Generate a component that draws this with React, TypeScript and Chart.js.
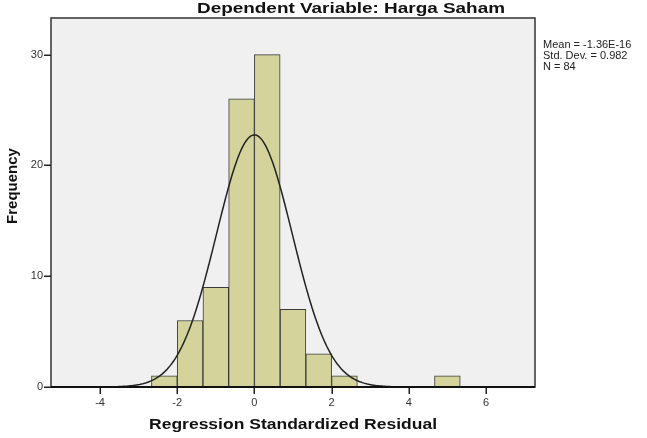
import React, { useEffect, useRef } from "react";
import { Chart, registerables } from "chart.js";

Chart.register(...registerables);

// Histogram bins (centres of 2/3-wide bins) and their counts
const binCenters = [-7 / 3, -5 / 3, -1, -1 / 3, 1 / 3, 1, 5 / 3, 7 / 3, 5];
const counts = [1, 6, 9, 26, 30, 7, 3, 1, 1];
const binWidth = 2 / 3;

// Stats shown in the legend
const mean = -1.36e-16;
const stdDev = 0.982;
const nObs = 84;
const statLines = ["Mean = -1.36E-16", "Std. Dev. = 0.982", "N = 84"];

const xTicks = [-4, -2, 0, 2, 4, 6];
const yTicks = [0, 10, 20, 30];
const xMin = -5.27;
const xMax = 7.27;
const yMax = 33.3;

const titleText = "Dependent Variable: Harga Saham";
const xTitle = "Regression Standardized Residual";
const yTitle = "Frequency";

// Fitted normal curve from the stated parameters
const curvePoints: { x: number; y: number }[] = [];
for (let i = 0; i <= 300; i++) {
  const x = xMin + ((xMax - xMin) * i) / 300;
  const z = (x - mean) / stdDev;
  const y = (nObs * binWidth * Math.exp(-0.5 * z * z)) / (stdDev * Math.sqrt(2 * Math.PI));
  curvePoints.push({ x, y });
}

const FONT = "Arial, 'Liberation Sans', sans-serif";

function stretchedText(ctx: CanvasRenderingContext2D, text: string, cx: number, y: number, width: number) {
  const w = ctx.measureText(text).width;
  ctx.save();
  ctx.translate(cx, y);
  ctx.scale(width / w, 1);
  ctx.textAlign = "center";
  ctx.fillText(text, 0, 0);
  ctx.restore();
}

export default function App() {
  const ref = useRef<HTMLCanvasElement | null>(null);

  useEffect(() => {
    document.body.style.margin = "0";
    const canvas = ref.current;
    if (!canvas) return;

    const decor = {
      id: "decor",
      beforeDatasetsDraw(chart: any) {
        const { ctx, chartArea: a } = chart;
        ctx.save();
        ctx.fillStyle = "#f0f0f0";
        ctx.fillRect(a.left, a.top, a.right - a.left, a.bottom - a.top);
        ctx.restore();
      },
      afterDraw(chart: any) {
        const { ctx, chartArea: a, scales } = chart;
        ctx.save();
        ctx.strokeStyle = "#333";
        ctx.lineWidth = 1.5;
        ctx.strokeRect(a.left, a.top, a.right - a.left, a.bottom - a.top);
        ctx.fillStyle = "#222";
        const bottom = a.bottom;
        for (const v of xTicks) {
          const px = scales.x.getPixelForValue(v);
          ctx.fillRect(Math.round(px) - 0.5, bottom, 1.5, 7);
        }
        for (const v of yTicks) {
          const py = scales.y.getPixelForValue(v);
          ctx.fillRect(a.left - 7, Math.round(py) - 0.5, 7, 1.5);
        }
        ctx.strokeStyle = "#111";
        ctx.lineWidth = 2;
        ctx.beginPath();
        ctx.moveTo(a.left, a.bottom);
        ctx.lineTo(a.right, a.bottom);
        ctx.stroke();

        ctx.fillStyle = "#111";
        ctx.font = `bold 14px ${FONT}`;
        ctx.textBaseline = "alphabetic";
        stretchedText(ctx, titleText, 351, 13, 308);
        ctx.font = `bold 15px ${FONT}`;
        stretchedText(ctx, xTitle, 293, 429, 288);
        ctx.save();
        ctx.translate(17, 186);
        ctx.rotate(-Math.PI / 2);
        ctx.textAlign = "center";
        ctx.fillText(yTitle, 0, 0);
        ctx.restore();
        ctx.font = `11px ${FONT}`;
        ctx.textAlign = "left";
        ctx.fillStyle = "#222";
        statLines.forEach((t, i) => ctx.fillText(t, 543, 48 + i * 11));
        ctx.restore();
      },
    };

    const chart = new Chart(canvas, {
      type: "bar",
      data: {
        datasets: [
          {
            type: "line",
            data: curvePoints,
            borderColor: "#222",
            borderWidth: 1.5,
            pointRadius: 0,
            fill: false,
            tension: 0,
            order: 0,
          } as any,
          {
            type: "bar",
            data: binCenters.map((x, i) => ({ x, y: counts[i] })),
            backgroundColor: "rgb(211,211,155)",
            borderColor: "#3a3a3a",
            borderWidth: 1,
            barPercentage: 1,
            categoryPercentage: 1,
            order: 1,
          } as any,
        ],
      },
      options: {
        responsive: false,
        animation: false,
        events: [],
        layout: { padding: { top: 18, right: 112, left: 0, bottom: 0 } },
        plugins: { legend: { display: false }, tooltip: { enabled: false }, title: { display: false } },
        scales: {
          x: {
            type: "linear",
            min: xMin,
            max: xMax,
            offset: false,
            afterBuildTicks: (s: any) => {
              s.ticks = xTicks.map((v) => ({ value: v }));
            },
            afterFit: (s: any) => {
              s.height = 51;
            },
            grid: { offset: false, drawOnChartArea: false, drawTicks: true, tickLength: 7, color: "rgba(0,0,0,0)" },
            border: { display: false },
            ticks: { color: "#333", font: { family: FONT, size: 11 }, padding: 2, maxRotation: 0 },
          },
          y: {
            type: "linear",
            min: 0,
            max: yMax,
            afterBuildTicks: (s: any) => {
              s.ticks = yTicks.map((v) => ({ value: v }));
            },
            afterFit: (s: any) => {
              s.width = 51;
            },
            grid: { drawOnChartArea: false, drawTicks: true, tickLength: 7, color: "rgba(0,0,0,0)" },
            border: { display: false },
            ticks: { color: "#333", font: { family: FONT, size: 11 }, padding: 1 },
          },
        },
      } as any,
      plugins: [decor],
    });

    return () => chart.destroy();
  }, []);

  return <canvas ref={ref} width={647} height={438} style={{ display: "block" }} />;
}
